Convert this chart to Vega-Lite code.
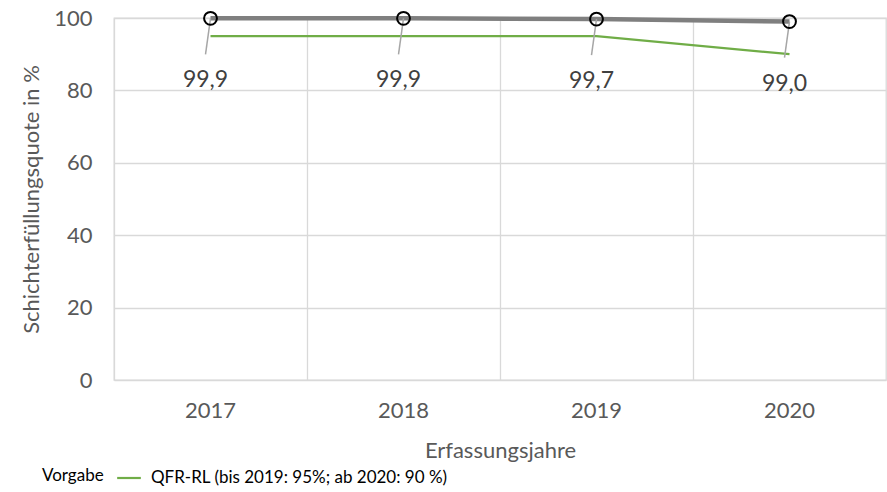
{
  "$schema": "https://vega.github.io/schema/vega-lite/v6.json",
  "width": 772,
  "height": 362,
  "autosize": {"type": "none"},
  "padding": {"left": 114, "top": 18, "right": 1, "bottom": 112},
  "background": "white",
  "config": {
    "font": "Lato",
    "view": {"stroke": "#d9d9d9", "strokeWidth": 1.3},
    "axis": {"labelFont": "Lato", "titleFont": "Lato", "labelColor": "#595959", "titleColor": "#595959", "labelFontSize": 22, "titleFontSize": 22, "titleFontWeight": "normal", "gridColor": "#d9d9d9", "gridWidth": 1.3, "domain": false, "ticks": false, "labelOverlap": false}
  },
  "data": {
    "values": [
      {"year": "2017", "quote": 99.9, "vorgabe": 95, "label": "99,9", "series": "QFR-RL (bis 2019: 95%; ab 2020: 90 %)"},
      {"year": "2018", "quote": 99.9, "vorgabe": 95, "label": "99,9", "series": "QFR-RL (bis 2019: 95%; ab 2020: 90 %)"},
      {"year": "2019", "quote": 99.7, "vorgabe": 95, "label": "99,7", "series": "QFR-RL (bis 2019: 95%; ab 2020: 90 %)"},
      {"year": "2020", "quote": 99.0, "vorgabe": 90, "label": "99,0", "series": "QFR-RL (bis 2019: 95%; ab 2020: 90 %)"}
    ]
  },
  "encoding": {
    "x": {
      "field": "year", "type": "ordinal",
      "scale": {"type": "band", "paddingInner": 0, "paddingOuter": 0},
      "axis": {"title": "Erfassungsjahre", "labelAngle": 0, "labelPadding": 20, "titlePadding": 19, "grid": true, "bandPosition": 0}
    }
  },
  "layer": [
    {
      "mark": {"type": "line", "strokeWidth": 2.2},
      "encoding": {
        "y": {"field": "vorgabe", "type": "quantitative", "scale": {"domain": [0, 100]},
          "axis": {"title": "Schichterfüllungsquote in %", "values": [0, 20, 40, 60, 80, 100], "labelPadding": 22, "titlePadding": 10}},
        "color": {"field": "series", "type": "nominal", "scale": {"range": ["#70ad47"]},
          "legend": {"title": "Vorgabe", "orient": "none", "legendX": -72, "legendY": 447, "direction": "horizontal", "titleOrient": "left", "titleAnchor": "middle", "titleBaseline": "middle", "titleFontWeight": "normal", "titleFontSize": 17, "titleColor": "#000000", "titleFont": "Lato", "labelFont": "Lato", "labelFontSize": 17, "labelColor": "#000000", "symbolType": "stroke", "symbolSize": 560, "symbolStrokeWidth": 2.2, "titlePadding": 12, "labelOffset": 9, "labelLimit": 600}}
      }
    },
    {
      "mark": {"type": "line", "strokeWidth": 4.5, "color": "#7f7f7f"},
      "encoding": {"y": {"field": "quote", "type": "quantitative"}}
    },
    {
      "mark": {"type": "rule", "color": "#a6a6a6", "strokeWidth": 1.5, "x2Offset": -5, "y2Offset": 36},
      "encoding": {
        "y": {"field": "quote", "type": "quantitative"},
        "y2": {"field": "quote"},
        "x2": {"field": "year"}
      }
    },
    {
      "mark": {"type": "point", "shape": "circle", "filled": false, "size": 165, "stroke": "#000000", "strokeWidth": 2, "opacity": 1},
      "encoding": {"y": {"field": "quote", "type": "quantitative"}}
    },
    {
      "mark": {"type": "text", "fontSize": 23, "color": "#404040", "dx": -5, "dy": 62, "font": "Lato"},
      "encoding": {
        "y": {"field": "quote", "type": "quantitative"},
        "text": {"field": "label"}
      }
    }
  ]
}
